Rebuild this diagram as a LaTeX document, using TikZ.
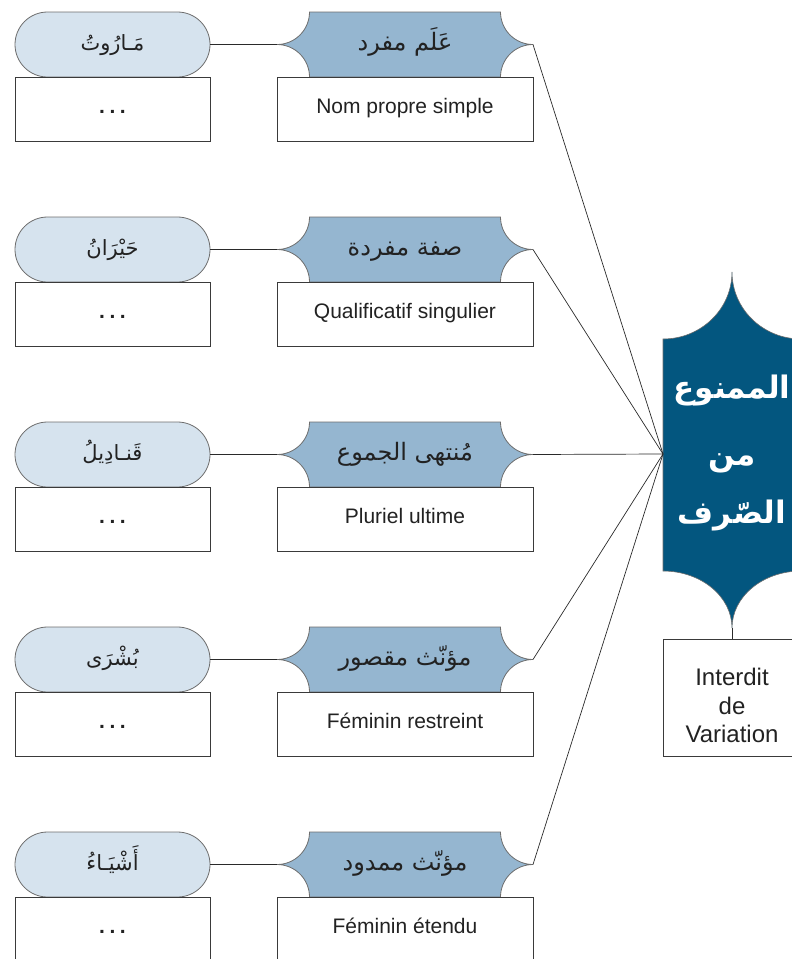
\documentclass[tikz,border=0pt]{standalone}
\usepackage{fontspec}
\setmainfont{Liberation Sans}
\newfontfamily\arabicfont[Script=Arabic]{DejaVu Sans}
\TeXXeTstate=1
\newcommand{\dotsmark}{{\bfseries .\hspace{4.5pt}.\hspace{4.5pt}.}}

\definecolor{pillfill}{HTML}{D6E3EE}
\definecolor{catfill}{HTML}{95B6D0}
\definecolor{corefill}{HTML}{03567F}
\definecolor{edgegrey}{HTML}{6E6E6E}
\definecolor{boxline}{HTML}{3A3A3A}
\definecolor{linkcol}{HTML}{2A2A2A}
\definecolor{textcol}{HTML}{222222}

\tikzset{
  pill/.style={draw=edgegrey, fill=pillfill, line width=0.8pt,
    rounded corners=32.5pt, minimum width=195pt, minimum height=65pt,
    inner sep=0pt, text=textcol, font=\fontsize{21}{24}\arabicfont,
    text height=16pt, text depth=5pt},
  exbox/.style={draw=boxline, fill=white, line width=0.9pt,
    minimum width=195pt, minimum height=64pt, inner sep=0pt,
    text=textcol, font=\fontsize{21}{24}\selectfont,
    text height=13pt, text depth=5pt},
  namebox/.style={exbox, minimum width=256pt},
  catshape/.style={draw=edgegrey, fill=catfill, line width=0.8pt},
  catlabel/.style={inner sep=0pt, text=textcol,
    font=\fontsize{24}{28}\arabicfont, text height=17pt, text depth=6pt},
  coreshape/.style={draw=edgegrey, fill=corefill, line width=0.6pt},
  corelabel/.style={inner sep=0pt, anchor=base, text=white,
    font=\fontsize{31}{34}\arabicfont\bfseries},
  resultbox/.style={draw=boxline, fill=white, line width=0.9pt,
    minimum width=138pt, minimum height=117pt, inner sep=0pt},
  resulttext/.style={inner sep=0pt, align=center, text=textcol,
    font=\fontsize{24}{28.5}\selectfont},
  link/.style={draw=linkcol, line width=0.7pt},
}

% one row: example word, its category shape, the French name
\newcommand{\kindrow}[5]{%
  % #1 tag, #2 top edge, #3 example word, #4 category, #5 French name
  \path[catshape] (309.5,-#2) -- (500.5,-#2)
    arc[start angle=180, end angle=270, radius=32.5pt]
    arc[start angle=90, end angle=180, radius=32.5pt]
    -- (309.5,-#2-65)
    arc[start angle=0, end angle=90, radius=32.5pt]
    arc[start angle=270, end angle=360, radius=32.5pt]
    -- cycle;
  \coordinate (cat#1w) at (277,-#2-32.5);
  \coordinate (cat#1e) at (533,-#2-32.5);
  \node[catlabel] (cat#1) at (405,-#2-32.5) {#4};
  \node[namebox] (fr#1) at (405,-#2-97) {#5};
  \node[pill] (ex#1) at (112.5,-#2-32.5) {#3};
  \node[exbox] (dots#1) at (112.5,-#2-97) {\dotsmark};
  \draw[link] (ex#1.east) -- (cat#1w);
  \draw[link] (cat#1e) -- (corew);
}

\begin{document}
\begin{tikzpicture}[x=1pt,y=1pt]
\useasboundingbox (0,0) rectangle (792,-959);

% central shape with pointed top and bottom
\path[coreshape] (663,-339)
  arc[start angle=270, end angle=360, x radius=69pt, y radius=67pt]
  arc[start angle=180, end angle=270, x radius=69pt, y radius=67pt]
  -- (801,-571)
  arc[start angle=90, end angle=180, x radius=69pt, y radius=57pt]
  arc[start angle=0, end angle=90, x radius=69pt, y radius=57pt]
  -- cycle;
\coordinate (corew) at (663,-454);
\coordinate (coresouth) at (732,-628);
\node[corelabel] (core1) at (732,-398) {\beginR الممنوع\endR};
\node[corelabel] (core2) at (732,-465) {\beginR من\endR};
\node[corelabel] (core3) at (732,-523) {\beginR الصّرف\endR};

\node[resultbox] (idv) at (732,-697.5) {};
\node[resulttext] (idvtext) at ([yshift=-8pt]idv.center) {Interdit\\de\\Variation};
\draw[link] (coresouth) -- (idv.north);

\kindrow{1}{12}{\beginR مَـارُوتُ\endR}{\beginR عَلَم مفرد\endR}{Nom propre simple}
\kindrow{2}{217}{\beginR حَيْرَانُ\endR}{\beginR صفة مفردة\endR}{Qualificatif singulier}
\kindrow{3}{422}{\beginR قَنـادِيلُ\endR}{\beginR مُنتهى الجموع\endR}{Pluriel ultime}
\kindrow{4}{627}{\beginR بُشْرَى\endR}{\beginR مؤنّث مقصور\endR}{Féminin restreint}
\kindrow{5}{832}{\beginR أَشْيَـاءُ\endR}{\beginR مؤنّث ممدود\endR}{Féminin étendu}
\end{tikzpicture}
\end{document}
